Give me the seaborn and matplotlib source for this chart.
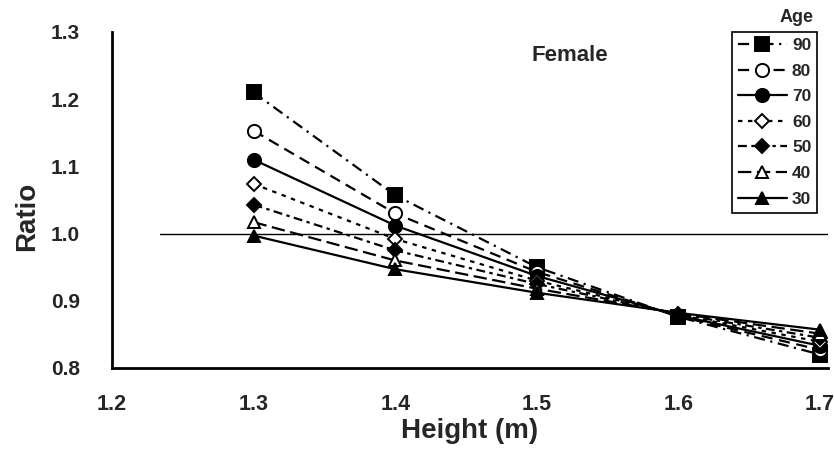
import matplotlib
matplotlib.use("Agg")
import matplotlib.pyplot as plt
import seaborn as sns
import pandas as pd

heights = [1.3, 1.4, 1.5, 1.6, 1.7]
ages = ["90", "80", "70", "60", "50", "40", "30"]
ratio_90 = [1.210, 1.057, 0.950, 0.876, 0.820]
ratio_80 = [1.153, 1.030, 0.943, 0.877, 0.827]
ratio_70 = [1.110, 1.012, 0.937, 0.878, 0.833]
ratio_60 = [1.074, 0.992, 0.930, 0.879, 0.839]
ratio_50 = [1.043, 0.975, 0.925, 0.880, 0.845]
ratio_40 = [1.017, 0.960, 0.918, 0.881, 0.851]
ratio_30 = [0.997, 0.947, 0.912, 0.882, 0.857]
series = [ratio_90, ratio_80, ratio_70, ratio_60, ratio_50, ratio_40, ratio_30]

reference_level = 1.0
x_ticks = [1.2, 1.3, 1.4, 1.5, 1.6, 1.7]
y_ticks = [0.8, 0.9, 1.0, 1.1, 1.2, 1.3]

styles = {
    "90": dict(marker="s", mfc="black", dashes=(5, 2.5, 1, 2.5), ms=9.5),
    "80": dict(marker="o", mfc="white", dashes=(5, 3), ms=9.5),
    "70": dict(marker="o", mfc="black", dashes=None, ms=9.5),
    "60": dict(marker="D", mfc="white", dashes=(2, 2.5), ms=7),
    "50": dict(marker="D", mfc="black", dashes=(4, 2, 1.5, 2), ms=7),
    "40": dict(marker="^", mfc="white", dashes=(6, 2.5), ms=9),
    "30": dict(marker="^", mfc="black", dashes=None, ms=9),
}

sns.set_style("white")
plt.rcParams["font.family"] = ["Liberation Sans", "DejaVu Sans"]
plt.rcParams["font.weight"] = "bold"

fig = plt.figure(figsize=(8.34, 4.59), dpi=100)
ax = fig.add_axes([0.1343, 0.1983, 0.8585, 0.732])

ax.plot([1.234, 1.7056], [reference_level, reference_level], color="black", lw=1.0, zorder=1)

for age, vals in zip(ages, series):
    st = styles[age]
    df = pd.DataFrame({"Height": heights, "Ratio": vals})
    kw = dict(color="black", lw=1.6, marker=st["marker"], markersize=st["ms"],
              markerfacecolor=st["mfc"], markeredgecolor="black", markeredgewidth=1.4,
              clip_on=False, label=age, zorder=3)
    if st["dashes"] is None:
        kw["linestyle"] = "-"
    else:
        kw["linestyle"] = (0, st["dashes"])
    sns.lineplot(data=df, x="Height", y="Ratio", ax=ax, legend=False, **kw)

ax.set_xlim(1.2, 1.7056)
ax.set_ylim(0.8, 1.3)
ax.set_xticks(x_ticks)
ax.set_yticks(y_ticks)
ax.set_xticklabels([f"{v:.1f}" for v in x_ticks], fontsize=15.5, fontweight="bold")
ax.set_yticklabels([f"{v:.1f}" for v in y_ticks], fontsize=15, fontweight="bold")
ax.tick_params(axis="both", direction="in", length=5, width=1.5, color="black")
ax.tick_params(axis="x", pad=19)
ax.tick_params(axis="y", pad=23)
for s in ["top", "right"]:
    ax.spines[s].set_visible(False)
for s in ["left", "bottom"]:
    ax.spines[s].set_color("black")
    ax.spines[s].set_linewidth(2.0)

ax.set_xlabel("Height (m)", fontsize=20, fontweight="bold", labelpad=2)
ax.set_ylabel("Ratio", fontsize=20, fontweight="bold")
ax.yaxis.set_label_coords(-0.10, 0.45)

ax.text(1.5235, 1.265, "Female", fontsize=16, fontweight="bold", ha="center", va="center")

handles, labels = ax.get_legend_handles_labels()
leg = ax.legend(handles, labels, loc="upper left", bbox_to_anchor=(0.866, 1.0),
                frameon=True, fancybox=False, edgecolor="black", framealpha=1,
                handlelength=2.8, handletextpad=0.3, labelspacing=0.6, borderpad=0.35,
                borderaxespad=0, prop=dict(size=12.5, weight="bold"))
leg.get_frame().set_linewidth(1.2)
fig.text(0.9556, 0.961, "Age", fontsize=13, fontweight="bold", ha="center", va="center")

fig.savefig("out.png", dpi=100)
